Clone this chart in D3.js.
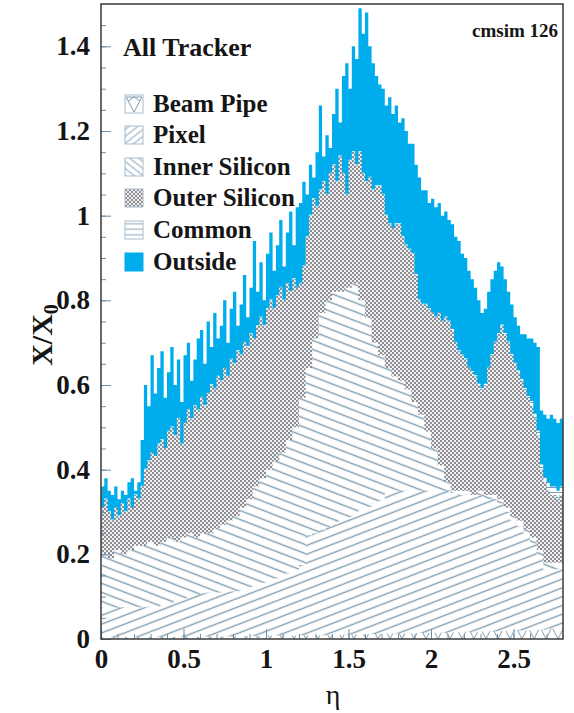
<!DOCTYPE html>
<html>
<head>
<meta charset="utf-8">
<script src="https://cdn.jsdelivr.net/npm/d3@7"></script>
<style>
  html, body { margin: 0; padding: 0; background: #fff; }
  svg { display: block; }
  text { font-family: "Liberation Serif", "Times New Roman", serif; fill: #151515; }
</style>
</head>
<body>
<svg id="chart" width="574" height="713"></svg>
<script>
// Material budget in front of the calorimeter, cumulative X/X0 per eta bin.
// Each "Cum" array is the running total up to and including that subsystem.

const fineBin = 0.02;   // width of the bins of outsideCum / outerSiliconCum
const coarseBin = 0.04; // width of the bins of innerSiliconCum / pixelCum
const wideBin = 0.1;    // width of the bins of commonPart / beamPipeCum

const outsideCum = [
  0.36, 0.38, 0.35, 0.34, 0.36, 0.33, 0.35, 0.34, 0.37, 0.38,
  0.35, 0.37, 0.47, 0.60, 0.55, 0.67, 0.58, 0.64, 0.68, 0.57,
  0.63, 0.69, 0.60, 0.66, 0.56, 0.67, 0.70, 0.61, 0.66, 0.71,
  0.73, 0.65, 0.75, 0.69, 0.77, 0.71, 0.74, 0.80, 0.70, 0.78,
  0.82, 0.74, 0.79, 0.86, 0.76, 0.83, 0.94, 0.82, 0.89, 0.80,
  0.91, 0.96, 0.87, 0.93, 0.99, 0.88, 0.96, 1.01, 0.93, 1.02,
  1.03, 1.08, 1.05, 1.12, 1.09, 1.15, 1.26, 1.14, 1.19, 1.16,
  1.24, 1.30, 1.22, 1.33, 1.36, 1.30, 1.40, 1.37, 1.49, 1.43,
  1.48, 1.40, 1.36, 1.33, 1.31, 1.30, 1.26, 1.28, 1.24, 1.26,
  1.22, 1.23, 1.20, 1.17, 1.17, 1.12, 1.09, 1.06, 1.06, 1.03,
  1.04, 1.02, 1.03, 1.00, 1.01, 0.99, 0.98, 0.95, 0.94, 0.91,
  0.90, 0.87, 0.85, 0.83, 0.80, 0.77, 0.78, 0.82, 0.85, 0.87,
  0.89, 0.88, 0.85, 0.82, 0.79, 0.76, 0.74, 0.72, 0.72, 0.71,
  0.71, 0.70, 0.69, 0.54, 0.53, 0.52, 0.53, 0.52, 0.51, 0.52
];

const outerSiliconCum = [
  0.31, 0.33, 0.30, 0.28, 0.31, 0.29, 0.32, 0.30, 0.33, 0.31,
  0.34, 0.33, 0.36, 0.40, 0.42, 0.44, 0.43, 0.46, 0.47, 0.45,
  0.49, 0.50, 0.48, 0.52, 0.46, 0.51, 0.54, 0.52, 0.55, 0.54,
  0.57, 0.55, 0.58, 0.60, 0.59, 0.62, 0.61, 0.64, 0.62, 0.66,
  0.65, 0.68, 0.67, 0.70, 0.69, 0.72, 0.71, 0.74, 0.76, 0.74,
  0.78, 0.80, 0.78, 0.81, 0.83, 0.80, 0.84, 0.82, 0.85, 0.83,
  0.84, 0.88, 0.95, 1.00, 1.04, 1.02, 1.06, 1.08, 1.05, 1.10,
  1.12, 1.08, 1.14, 1.10, 1.05, 1.13, 1.15, 1.12, 1.15, 1.10,
  1.08, 1.09, 1.06, 1.07, 1.07, 1.05, 1.00, 0.98, 0.97, 0.98,
  0.98, 0.95, 0.93, 0.92, 0.91, 0.86, 0.80, 0.79, 0.79, 0.78,
  0.77, 0.76, 0.77, 0.75, 0.76, 0.75, 0.73, 0.70, 0.68, 0.67,
  0.66, 0.64, 0.63, 0.62, 0.60, 0.59, 0.60, 0.64, 0.67, 0.70,
  0.72, 0.74, 0.72, 0.70, 0.67, 0.65, 0.63, 0.61, 0.59, 0.57,
  0.55, 0.52, 0.48, 0.40, 0.37, 0.35, 0.34, 0.34, 0.33, 0.34
];

// Common services: thin layer sitting on top of the outer silicon
const commonPart = [
  0.002, 0.002, 0.002, 0.002, 0.002, 0.002, 0.002, 0.002, 0.002, 0.002,
  0.002, 0.002, 0.002, 0.002, 0.002, 0.002, 0.002, 0.002, 0.002, 0.002,
  0.002, 0.002, 0.003, 0.003, 0.003, 0.004, 0.012, 0.020
];

const innerSiliconCum = [
  0.20, 0.19, 0.21, 0.20, 0.21, 0.22, 0.22, 0.23, 0.22, 0.23,
  0.24, 0.23, 0.24, 0.25, 0.24, 0.25, 0.25, 0.26, 0.27, 0.28,
  0.29, 0.31, 0.33, 0.36, 0.38, 0.40, 0.42, 0.44, 0.47, 0.50,
  0.57, 0.64, 0.71, 0.77, 0.80, 0.82, 0.82, 0.83, 0.84, 0.80,
  0.76, 0.70, 0.67, 0.64, 0.62, 0.61, 0.59, 0.56, 0.53, 0.49,
  0.45, 0.41, 0.37, 0.35, 0.35, 0.35, 0.34, 0.35, 0.34, 0.34,
  0.33, 0.31, 0.29, 0.28, 0.26, 0.24, 0.21, 0.18, 0.18, 0.18
];

const pixelCum = [
  0.075, 0.075, 0.074, 0.075, 0.076, 0.075, 0.075, 0.076, 0.077, 0.080,
  0.085, 0.090, 0.095, 0.100, 0.104, 0.108, 0.110, 0.110, 0.110, 0.112,
  0.113, 0.118, 0.123, 0.128, 0.133, 0.138, 0.143, 0.148, 0.155, 0.162,
  0.175, 0.245, 0.250, 0.258, 0.265, 0.272, 0.280, 0.288, 0.296, 0.304,
  0.312, 0.320, 0.328, 0.345, 0.350, 0.350, 0.350, 0.350, 0.350, 0.350,
  0.350, 0.350, 0.350, 0.345, 0.340, 0.340, 0.335, 0.340, 0.330, 0.330,
  0.320, 0.300, 0.280, 0.265, 0.245, 0.225, 0.195, 0.165, 0.165, 0.165
];

const beamPipeCum = [
  0.004, 0.004, 0.004, 0.005, 0.005, 0.005, 0.006, 0.006, 0.007, 0.007,
  0.008, 0.008, 0.009, 0.009, 0.010, 0.011, 0.012, 0.013, 0.013, 0.014,
  0.015, 0.016, 0.017, 0.018, 0.019, 0.020, 0.022, 0.024
];

const legendLabels = ["Beam Pipe", "Pixel", "Inner Silicon", "Outer Silicon", "Common", "Outside"];
const xTicks = [0, 0.5, 1, 1.5, 2, 2.5];
const yTicks = [0, 0.2, 0.4, 0.6, 0.8, 1, 1.2, 1.4];

// ---------------------------------------------------------------------------
const plot = { left: 101, right: 563, top: 4, bottom: 639 };
const cyan = "#00adec";
const hatchColor = "#7f9db2";
const serif = '"Liberation Serif", "Times New Roman", serif';

const svg = d3.select("#chart");
const x = d3.scaleLinear().domain([0, 2.8]).range([plot.left, plot.right]);
const y = d3.scaleLinear().domain([0, 1.5]).range([plot.bottom, plot.top]);

const defs = svg.append("defs");
defs.append("clipPath").attr("id", "plot-clip")
  .append("rect")
  .attr("x", plot.left).attr("y", plot.top)
  .attr("width", plot.right - plot.left).attr("height", plot.bottom - plot.top);

function linePattern(id, angle, spacing, color, width) {
  const p = defs.append("pattern")
    .attr("id", id)
    .attr("patternUnits", "userSpaceOnUse")
    .attr("width", 40).attr("height", spacing)
    .attr("patternTransform", `rotate(${angle})`);
  p.append("rect").attr("width", 40).attr("height", spacing).attr("fill", "#fff");
  p.append("line")
    .attr("x1", 0).attr("x2", 40)
    .attr("y1", spacing / 2).attr("y2", spacing / 2)
    .attr("stroke", color).attr("stroke-width", width);
}

// plot hatches (shallow) and legend hatches (steeper)
linePattern("pat-pixel", -21, 8.2, hatchColor, 1.3);
linePattern("pat-inner", 21, 8.4, hatchColor, 1.3);
linePattern("pat-common", 0, 5, hatchColor, 1);
linePattern("leg-pixel", -38, 5.5, hatchColor, 1);
linePattern("leg-inner", 38, 5.5, hatchColor, 1);
linePattern("leg-common", 0, 5.5, hatchColor, 1);

(function checker() {
  const p = defs.append("pattern")
    .attr("id", "pat-outer")
    .attr("patternUnits", "userSpaceOnUse")
    .attr("width", 4).attr("height", 4);
  p.append("rect").attr("width", 4).attr("height", 4).attr("fill", "#f4eded");
  p.append("rect").attr("x", 0).attr("y", 0).attr("width", 2).attr("height", 2).attr("fill", "#8a9096");
  p.append("rect").attr("x", 2).attr("y", 2).attr("width", 2).attr("height", 2).attr("fill", "#8a9096");
})();

(function vees() {
  const p = defs.append("pattern")
    .attr("id", "pat-beam")
    .attr("patternUnits", "userSpaceOnUse")
    .attr("width", 12).attr("height", 12)
    .attr("y", y(0));
  p.append("rect").attr("width", 12).attr("height", 12).attr("fill", "#fff");
  p.append("path").attr("d", "M0,0 L6,12 L12,0")
    .attr("fill", "none").attr("stroke", hatchColor).attr("stroke-width", 1);
})();

// histogram outline points: one step per bin, closed with the last edge
function steps(values, width, base) {
  const pts = values.map((v, i) => ({ eta: i * width, top: v, bottom: base ? base[i] : 0 }));
  const n = values.length;
  pts.push({ eta: n * width, top: values[n - 1], bottom: base ? base[n - 1] : 0 });
  return pts;
}

const area = d3.area()
  .curve(d3.curveStepAfter)
  .x(d => x(d.eta))
  .y0(d => y(d.bottom))
  .y1(d => y(d.top));

const commonTop = outerSiliconCum.map((v, i) =>
  v + commonPart[Math.floor((i * fineBin) / wideBin + 1e-6)]);

// painted from the outermost total inwards, each layer covering the one before
const layers = [
  { pts: steps(outsideCum, fineBin), fill: cyan },
  { pts: steps(commonTop, fineBin, outerSiliconCum), fill: "url(#pat-common)" },
  { pts: steps(outerSiliconCum, fineBin), fill: "url(#pat-outer)" },
  { pts: steps(innerSiliconCum, coarseBin), fill: "url(#pat-inner)" },
  { pts: steps(pixelCum, coarseBin), fill: "url(#pat-pixel)" },
  { pts: steps(beamPipeCum, wideBin), fill: "url(#pat-beam)" }
];

const gPlot = svg.append("g").attr("clip-path", "url(#plot-clip)");
gPlot.selectAll("path.layer")
  .data(layers)
  .join("path")
  .attr("class", "layer")
  .attr("d", d => area(d.pts))
  .attr("fill", d => d.fill);

// axes: ticks point into the frame
const tickColor = "#6e8fa8";
const fmt = d3.format("~g");

function styleAxis(g) {
  g.select(".domain").remove();
  g.selectAll(".tick line").attr("stroke", tickColor).attr("stroke-width", 1);
  g.selectAll(".tick text")
    .attr("fill", "#151515")
    .style("font-family", serif)
    .style("font-weight", "bold")
    .style("font-size", "27px");
}

svg.append("g")
  .attr("transform", `translate(0,${plot.bottom})`)
  .call(d3.axisBottom(x).tickValues(d3.range(0, 28).map(i => i / 10)).tickSizeInner(-5).tickSizeOuter(0).tickFormat(""))
  .call(styleAxis);
svg.append("g")
  .attr("transform", `translate(0,${plot.bottom})`)
  .call(d3.axisBottom(x).tickValues(xTicks).tickSizeInner(-10).tickSizeOuter(0).tickPadding(10).tickFormat(fmt))
  .call(styleAxis);

svg.append("g")
  .attr("transform", `translate(${plot.left},0)`)
  .call(d3.axisLeft(y).tickValues(d3.range(0, 30).map(i => i / 20)).tickSizeInner(-5).tickSizeOuter(0).tickFormat(""))
  .call(styleAxis);
svg.append("g")
  .attr("transform", `translate(${plot.left},0)`)
  .call(d3.axisLeft(y).tickValues(yTicks).tickSizeInner(-10).tickSizeOuter(0).tickPadding(11).tickFormat(fmt))
  .call(styleAxis);

// frame
svg.append("rect")
  .attr("x", plot.left).attr("y", plot.top)
  .attr("width", plot.right - plot.left).attr("height", plot.bottom - plot.top)
  .attr("fill", "none").attr("stroke", "#3a3a3a").attr("stroke-width", 1.5);

// axis titles
svg.append("text")
  .attr("transform", "translate(52,335) rotate(-90)")
  .attr("text-anchor", "middle")
  .style("font-weight", "bold").style("font-size", "30px")
  .call(t => {
    t.append("tspan").text("X/X");
    t.append("tspan").attr("dy", 6).style("font-size", "20px").text("0");
  });

svg.append("text")
  .attr("x", 333).attr("y", 704)
  .attr("text-anchor", "middle")
  .style("font-size", "28px")
  .text("η");

// title and tag
svg.append("text")
  .attr("x", 123).attr("y", 56)
  .style("font-weight", "bold").style("font-size", "26px")
  .text("All Tracker");

svg.append("text")
  .attr("x", 558).attr("y", 37)
  .attr("text-anchor", "end")
  .style("font-weight", "bold").style("font-size", "19px")
  .text("cmsim 126");

// legend
const legendFills = ["#fff", "url(#leg-pixel)", "url(#leg-inner)", "url(#pat-outer)", "url(#leg-common)", cyan];
const legendBaselines = [112, 143, 175, 206, 238, 270];
const gLeg = svg.append("g");
legendLabels.forEach((label, i) => {
  const by = legendBaselines[i];
  const box = gLeg.append("g").attr("transform", `translate(125,${by - 17})`);
  box.append("rect")
    .attr("width", 18).attr("height", 18)
    .attr("fill", legendFills[i])
    .attr("stroke", i === 5 ? cyan : "#a8bccb").attr("stroke-width", 1);
  if (i === 0) {
    box.append("path")
      .attr("d", "M1,2 L9,17 L17,2 M1,2 L17,2 M3,6 L9,2 L15,6")
      .attr("fill", "none").attr("stroke", hatchColor).attr("stroke-width", 1);
  }
  gLeg.append("text")
    .attr("x", 153).attr("y", by)
    .style("font-weight", "bold").style("font-size", "25px")
    .text(label);
});
</script>
</body>
</html>
